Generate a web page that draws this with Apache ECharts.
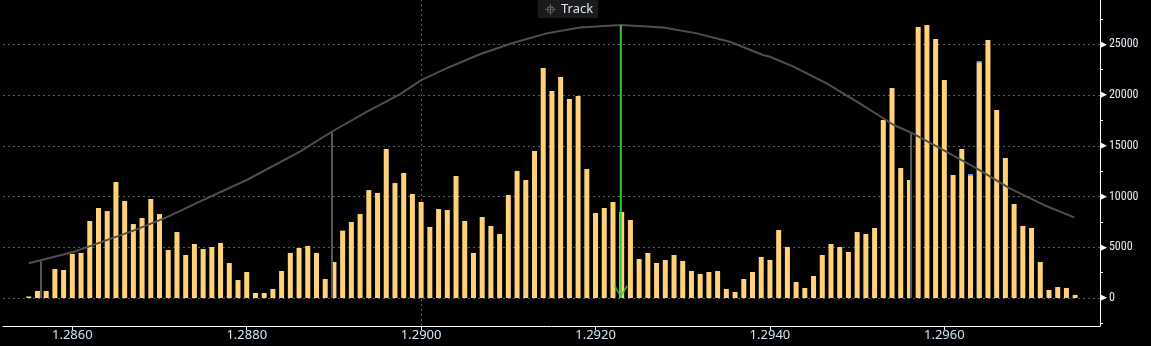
<!DOCTYPE html>
<html><head><meta charset="utf-8">
<script src="https://cdn.jsdelivr.net/npm/echarts@6/dist/echarts.min.js"></script>
<style>html,body{margin:0;padding:0;background:#000;}#c{width:1151px;height:346px;}</style>
</head><body><div id="c"></div>
<script>
// price levels (one bar every 0.0001 from 1.2855 to 1.2975)
const levelStart = 1.2855;
const levelStep = 0.0001;
const volumes = [
  150, 690, 690, 2860, 2760, 4340, 4440, 7590, 8870, 8570,
  11430, 9560, 7290, 7880, 9760, 8280, 4730, 6500, 4240, 5320,
  4830, 5030, 5420, 3450, 1770, 2560, 490, 490, 890, 2660,
  4440, 4930, 5130, 4440, 1870, 3550, 6640, 7490, 8280, 10640,
  10350, 14680, 11330, 12320, 10250, 9460, 7000, 8770, 8670, 12020,
  7590, 4440, 7980, 7100, 6310, 10150, 12520, 11630, 14490, 22670,
  20400, 21780, 19610, 19910, 12710, 8380, 8870, 9460, 8480, 7690,
  3840, 4440, 3450, 3750, 4240, 3650, 2660, 2370, 2560, 2660,
  890, 590, 1870, 2560, 4040, 3750, 6700, 5030, 1580, 990,
  2170, 4240, 5320, 5030, 4530, 6500, 6310, 6900, 17540, 20700,
  12810, 11630, 26710, 26900, 25520, 21480, 12120, 14680, 12070, 23210,
  25430, 18530, 13800, 9260, 7100, 6900, 3550, 790, 1080, 990,
  300
];
// small blue caps on top of two bars (index into volumes, extra amount)
const capIndex = [108, 109];
const capValues = [150, 150];

// distribution curve, read point by point [price, value]
const curveX = [1.28550, 1.28600, 1.28670, 1.28708, 1.28746, 1.28800, 1.28861, 1.28897, 1.28938, 1.28976,
  1.29000, 1.29029, 1.29068, 1.29106, 1.29144, 1.29182, 1.29229, 1.29278, 1.29316, 1.29354,
  1.29392, 1.29400, 1.29427, 1.29465, 1.29503, 1.29542, 1.29562, 1.29600, 1.29637, 1.29675,
  1.29714, 1.29749];
const curveY = [3420, 4500, 6640, 7950, 9490, 11630, 14420, 16360, 18360, 20100,
  21480, 22630, 24050, 25160, 26080, 26670, 26900, 26670, 26080, 25260,
  23950, 23780, 22800, 21160, 19180, 17050, 16290, 14520, 12780, 10810,
  9170, 7950];

// marker lines
const sigmaX = [1.28564, 1.28897, 1.29562];
const sigmaTop = [3620, 16360, 16290];
const trackX = 1.29229;
const trackTop = 26900;

const xLabels = [1.2860, 1.2880, 1.2900, 1.2920, 1.2940, 1.2960];
const yLabels = [0, 5000, 10000, 15000, 20000, 25000];
const yTicks = [-2500, 0, 2500, 5000, 7500, 10000, 12500, 15000, 17500, 20000, 22500, 25000, 27500];

const levelOf = i => +(levelStart + i * levelStep).toFixed(4);
const barData = volumes.map((v, i) => [levelOf(i), v]);
const capData = capIndex.map((idx, i) => [levelOf(idx), volumes[idx] + capValues[i]]);
const curveData = curveX.map((x, i) => [x, curveY[i]]);

const gridLines = xLabels.map(x => ({xAxis: x})).concat(yLabels.map(y => ({yAxis: y})));
const sigmaLines = sigmaX.map((x, i) => [{coord: [x, sigmaTop[i]]}, {coord: [x, 0]}]);

const CROSS = 'path://M9.4,0H10.6V20H9.4Z M0,9.4H20V10.6H0Z M4,10A6,6 0 1,0 16,10A6,6 0 1,0 4,10Z M5.3,10A4.7,4.7 0 1,1 14.7,10A4.7,4.7 0 1,1 5.3,10Z';
const CHEVRON = 'path://M0,1.4L1.4,0L7,10L12.6,0L14,1.4L7,13Z';

const chart = echarts.init(document.getElementById('c'), null, {renderer: 'canvas'});
chart.setOption({
  backgroundColor: '#000',
  animation: false,
  legend: {
    left: 538, top: 0,
    padding: [3, 5, 2, 7],
    backgroundColor: '#1b1b1b',
    itemWidth: 11, itemHeight: 11, itemGap: 8,
    selectedMode: false,
    textStyle: {color: '#dde6f0', fontSize: 13, fontFamily: 'Noto Sans'},
    data: [{name: 'Track', icon: CROSS, itemStyle: {color: '#8a8a8a'}}]
  },
  grid: {left: 3, right: 51, top: 0, bottom: 20, containLabel: false},
  xAxis: {
    type: 'value', min: 1.285205, max: 1.297785,
    axisLine: {show: true, onZero: false, lineStyle: {color: '#ffffff', width: 1}},
    axisTick: {show: true, customValues: xLabels, length: 4, lineStyle: {color: '#ffffff'}},
    axisLabel: {customValues: xLabels, formatter: v => v.toFixed(4), color: '#cfe3f8', fontSize: 13, fontFamily: 'Noto Sans', margin: 3},
    splitLine: {show: false}
  },
  yAxis: {
    type: 'value', position: 'right', min: -2760, max: 29370,
    axisLine: {show: true, lineStyle: {color: '#ffffff', width: 1}},
    axisTick: {show: true, customValues: yTicks, length: 3, lineStyle: {color: '#ffffff'}},
    axisLabel: {
      customValues: yLabels, margin: 0,
      formatter: v => '{t|\u25B6}' + v,
      color: '#e8eef6', fontSize: 12, fontFamily: "'Liberation Sans Narrow', 'Roboto Condensed', 'Liberation Sans', sans-serif",
      rich: {t: {fontSize: 9, color: '#ffffff', padding: [0, 2, 0, 0], fontFamily: 'DejaVu Sans'}}
    },
    splitLine: {show: false}
  },
  series: [
    {
      name: 'grid', type: 'line', data: [[1.2860, 0]], showSymbol: false, silent: true, z: 0,
      lineStyle: {opacity: 0},
      markLine: {silent: true, z: 0, symbol: 'none', label: {show: false},
        lineStyle: {color: '#5a5a5a', type: [2, 3], width: 1}, data: gridLines}
    },
    {
      name: 'Cap', type: 'bar', data: capData, barWidth: 5, z: 2,
      itemStyle: {color: '#3a95e8'}, silent: true
    },
    {
      name: 'Volume', type: 'bar', data: barData, barWidth: 5, barGap: '-100%', z: 2,
      itemStyle: {color: '#ffd27a'}, silent: true
    },
    {
      name: 'Curve', type: 'line', data: curveData, showSymbol: false, smooth: false, z: 3, silent: true,
      lineStyle: {color: '#4e4e4e', width: 2},
      markLine: {silent: true, z: 3, symbol: 'none', label: {show: false},
        lineStyle: {color: '#565656', type: 'solid', width: 2}, data: sigmaLines}
    },
    {
      name: 'Track', type: 'line', data: [[trackX, trackTop], [trackX, 0]], showSymbol: false, z: 4, silent: true,
      color: '#3cc43c',
      lineStyle: {color: '#3cc43c', width: 2}
    },
    {
      name: 'TrackArrow', type: 'scatter', data: [[trackX, 0]], symbol: CHEVRON, symbolSize: [14, 13],
      symbolOffset: [0, -6.5], z: 5, silent: true, itemStyle: {color: '#3cc43c'}
    }
  ]
});
</script></body></html>
